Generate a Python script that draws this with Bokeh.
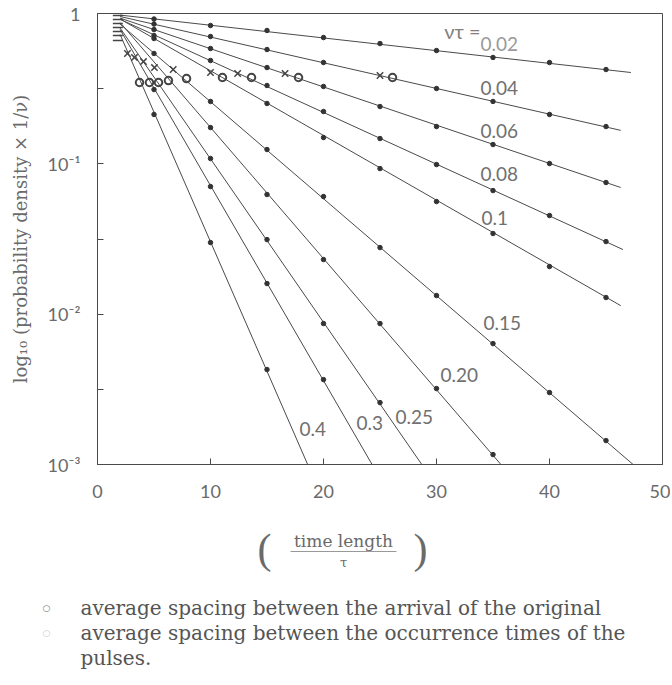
import math
from bokeh.plotting import figure
from bokeh.models import Label, FixedTicker, Range1d
from bokeh.layouts import column
from bokeh.embed import file_html
from bokeh.resources import INLINE

# ---------------- data ----------------
series_names = ["0.02", "0.04", "0.06", "0.08", "0.1", "0.15", "0.20", "0.25", "0.3", "0.4"]

line_start_t = [2, 2, 2, 2, 2, 2, 2, 2, 2, 2]
line_start_y = [0.976, 0.955, 0.932, 0.915, 0.919, 0.850, 0.871, 0.800, 0.782, 0.725]
line_end_t = [47.2, 46.3, 46.3, 46.5, 46.3, 47.4, 35.7, 28.7, 24.3, 18.6]
line_end_y = [0.405, 0.167, 0.0696, 0.0269, 0.0114, 0.001, 0.001, 0.001, 0.001, 0.001]

dots_002_t = [5, 10, 15, 20, 25, 30, 35, 40, 45]
dots_002_y = [0.919, 0.832, 0.771, 0.692, 0.631, 0.567, 0.510, 0.472, 0.424]
dots_004_t = [5, 10, 15, 20, 30, 35, 40, 45]
dots_004_y = [0.851, 0.703, 0.576, 0.472, 0.317, 0.260, 0.213, 0.177]
dots_006_t = [5, 10, 15, 20, 25, 30, 35, 40, 45]
dots_006_y = [0.782, 0.585, 0.437, 0.327, 0.2405, 0.177, 0.1344, 0.1005, 0.0751]
dots_008_t = [5, 10, 15, 20, 25, 30, 35, 40, 45]
dots_008_y = [0.714, 0.487, 0.332, 0.2228, 0.1473, 0.0989, 0.0664, 0.0453, 0.0304]
dots_010_t = [5, 15, 20, 25, 30, 35, 40, 45]
dots_010_y = [0.682, 0.252, 0.1496, 0.0930, 0.0561, 0.0344, 0.02074, 0.0129]
dots_015_t = [5, 10, 15, 20, 25, 30, 35, 40, 45]
dots_015_y = [0.542, 0.260, 0.1245, 0.0606, 0.02773, 0.0133, 0.00637, 0.00301, 0.001442]
dots_020_t = [10, 15, 20, 25, 30, 35]
dots_020_y = [0.1743, 0.0625, 0.02308, 0.00866, 0.0032, 0.001164]
dots_025_t = [10, 15, 20, 25]
dots_025_y = [0.1085, 0.03135, 0.00866, 0.00258]
dots_030_t = [5, 10, 15, 20]
dots_030_y = [0.312, 0.0706, 0.01598, 0.00367]
dots_040_t = [5, 10, 15]
dots_040_y = [0.213, 0.02995, 0.00428]

cross_t = [2.65, 3.27, 4.07, 5.04, 6.7, 10.0, 12.4, 16.6, 25.0]
cross_y = [0.542, 0.510, 0.479, 0.437, 0.424, 0.405, 0.399, 0.399, 0.387]
ring_t = [3.72, 4.6, 5.4, 6.28, 7.88, 11.06, 13.63, 17.79, 26.11]
ring_y = [0.3475, 0.3475, 0.3475, 0.358, 0.3694, 0.3752, 0.3752, 0.3752, 0.3752]

dash_t = [1.8, 1.8, 1.8, 1.8, 1.8, 1.8, 1.8]
dash_y = [0.970, 0.912, 0.858, 0.807, 0.759, 0.714, 0.661]

x_ticks = [0, 10, 20, 30, 40, 50]
y_ticks = [1.0, 0.1, 0.01, 0.001]
y_tick_labels = ["1", "10⁻¹", "10⁻²", "10⁻³"]
y_minor = [10 ** -0.5, 10 ** -1.5, 10 ** -2.5]

y_axis_title = "log₁₀ (probability density × 1/ν)"
x_title_top = "time length"
x_title_bottom = "τ"
param_title = "ντ ="
note_lines = [
    "average spacing between the arrival of the original",
    "average spacing between the occurrence times of the",
    "pulses.",
]

# ---------------- layout ----------------
W = 670
ML, MT = 97, 13
FW, FH = 565, 451
MR = W - ML - FW
MB = 45
H = MT + FH + MB
H2 = 684 - H  # bottom text panel
X0, X1 = 0, 50
Y0, Y1 = 1e-3, 1.0

INK = "#4a4a4a"
TXT = "#6a6a6a"


def tx(page_x):
    return X0 + (page_x - ML) * (X1 - X0) / FW


def ty(page_y):
    return 10 ** (-(page_y - MT) * 3.0 / FH)


p = figure(width=W, height=H, x_range=Range1d(X0, X1), y_range=Range1d(Y0, Y1),
           y_axis_type="log", output_backend="svg", toolbar_location=None,
           min_border_left=ML, min_border_right=MR, min_border_top=MT,
           min_border_bottom=MB)
p.grid.visible = False
p.outline_line_color = INK
p.outline_line_width = 1
p.background_fill_color = "white"
p.border_fill_color = "white"

p.xaxis.ticker = FixedTicker(ticks=x_ticks)
p.yaxis.ticker = FixedTicker(ticks=y_ticks, minor_ticks=y_minor)
p.yaxis.major_label_overrides = {t: s for t, s in zip(y_ticks, y_tick_labels)}
for ax in (p.xaxis, p.yaxis):
    ax.axis_line_color = INK
    ax.major_tick_line_color = INK
    ax.minor_tick_line_color = INK
    ax.major_tick_in = 6
    ax.major_tick_out = 0
    ax.minor_tick_in = 6
    ax.minor_tick_out = 0
    ax.major_label_text_font = "Lato"
    ax.major_label_text_font_size = "18px"
    ax.major_label_text_color = TXT
p.xaxis.major_label_standoff = 20
p.yaxis.major_label_standoff = 17
p.yaxis.axis_label = y_axis_title
p.yaxis.axis_label_text_font = "DejaVu Serif"
p.yaxis.axis_label_text_font_style = "normal"
p.yaxis.axis_label_text_font_size = "18px"
p.yaxis.axis_label_text_color = TXT
p.yaxis.axis_label_standoff = 14

# lines
p.multi_line([[a, b] for a, b in zip(line_start_t, line_end_t)],
             [[a, b] for a, b in zip(line_start_y, line_end_y)],
             line_color=INK, line_width=1)

all_t = dots_002_t + dots_004_t + dots_006_t + dots_008_t + dots_010_t + dots_015_t + dots_020_t + dots_025_t + dots_030_t + dots_040_t
all_y = dots_002_y + dots_004_y + dots_006_y + dots_008_y + dots_010_y + dots_015_y + dots_020_y + dots_025_y + dots_030_y + dots_040_y
p.scatter(all_t, all_y, marker="circle", size=4.5, color="#333333")
p.scatter(cross_t, cross_y, marker="x", size=9, line_color="#444444", line_width=1.5)
p.scatter(ring_t, ring_y, marker="circle", size=7.5, fill_color=None, line_color="#444444", line_width=2)
p.scatter(dash_t, dash_y, marker="dash", size=10, line_color="#444444", line_width=1.5)

# curve labels
label_pos = [(480, 43), (480, 87), (480, 130), (480, 173), (481, 217),
             (483, 322), (440, 374), (395, 416), (356, 422), (299, 428)]
for name, (px, py) in zip(series_names, label_pos):
    col = "#9a9a9a" if name == "0.02" else "#707070"
    p.add_layout(Label(x=tx(px), y=ty(py), text=name, text_align="left",
                       text_baseline="middle", text_font="Lato",
                       text_font_size="19px", text_color=col))
p.add_layout(Label(x=tx(462), y=ty(30), text=param_title, text_align="center",
                   text_baseline="middle", text_font="Lato",
                   text_font_size="20px", text_color="#808080"))

# ---------------- bottom text panel ----------------
TOP2 = H  # page y of the panel top
q = figure(width=W, height=H2, x_range=Range1d(0, W), y_range=Range1d(H2, 0),
           output_backend="svg", toolbar_location=None,
           x_axis_location=None, y_axis_location=None,
           min_border_left=0, min_border_right=0, min_border_top=0,
           min_border_bottom=0)
for fig in (p, q):
    try:
        fig.frame_align = False
    except Exception:
        pass
q.grid.visible = False
q.outline_line_color = None
q.border_fill_color = "white"
q.background_fill_color = "white"


def qx(page_x):
    return page_x


def qy(page_y):
    return page_y - TOP2


def qlabel(text, px, py, size, font="DejaVu Serif", align="center", color=TXT):
    q.add_layout(Label(x=qx(px), y=qy(py), text=text, text_align=align,
                       text_baseline="middle", text_font=font,
                       text_font_size=size, text_color=color))


qlabel(x_title_top, 343, 540, "17px")
q.line([qx(290), qx(396)], [qy(551), qy(551)], line_color="#999999", line_width=1)
qlabel(x_title_bottom, 343, 562, "13px")
qlabel("(", 264, 548, "42px", font="Liberation Serif")
qlabel(")", 420, 548, "42px", font="Liberation Serif")

note_y = [607, 632, 657]
qlabel("○", 46, 607, "9px", font="DejaVu Sans", color="#777777")
qlabel("○", 46, 632, "9px", font="DejaVu Sans", color="#cccccc")
for line, yy in zip(note_lines, note_y):
    qlabel(line, 80, yy, "20px", align="left", color="#555555")

open("out.html", "w").write(file_html(column(p, q, spacing=0), INLINE))
